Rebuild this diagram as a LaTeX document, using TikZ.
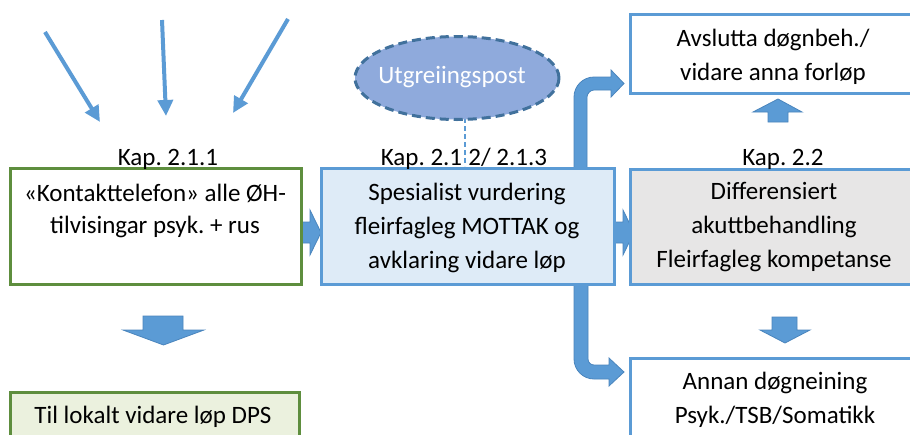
\documentclass[tikz,border=0pt]{standalone}
\usepackage{fontspec}
\setmainfont{Carlito}
\usetikzlibrary{shapes.geometric,arrows.meta}
\definecolor{ablue}{HTML}{5B9BD5}
\definecolor{aedge}{HTML}{4A85BD}
\definecolor{gborder}{HTML}{5E8E3E}
\definecolor{gfill}{HTML}{EBF1DE}
\definecolor{bfill}{HTML}{DEEBF7}
\definecolor{grfill}{HTML}{E7E6E6}
\definecolor{efill}{HTML}{8FAADC}
\definecolor{eedge}{HTML}{41719C}
\frenchspacing
\begin{document}
\begin{tikzpicture}[x=1pt,y=-1pt,
  txt/.style={font=\fontsize{25}{34}\selectfont, align=center, inner sep=0pt, text=black},
  bluebox/.style={draw=ablue, line width=2.5pt, anchor=north west, inner sep=0pt},
  greenbox/.style={draw=gborder, line width=2.5pt, anchor=north west, inner sep=0pt},
  blockarrow/.style={fill=ablue, draw=aedge, line width=0.8pt},
  feed/.style={draw=ablue, line width=4pt, -{Triangle[width=15pt,length=16pt]}},
  dashlink/.style={draw=ablue, line width=2.2pt, dash pattern=on 5pt off 3pt}]
\useasboundingbox (0,0) rectangle (910,434);
\clip (0,0) rectangle (910,434);
\fill[white] (0,0) rectangle (910,434);

% incoming arrows
\coordinate (s1) at (45,32);  \coordinate (t1) at (100,122);
\coordinate (s2) at (162,20); \coordinate (t2) at (166,116);
\coordinate (s3) at (288,19); \coordinate (t3) at (233,113);
\draw[feed] (s1) -- (t1);
\draw[feed] (s2) -- (t2);
\draw[feed] (s3) -- (t3);

% block arrows
\filldraw[blockarrow] (300,222) -- (310,222) -- (310,210) -- (321,232.5) -- (310,255) -- (310,243) -- (300,243) -- cycle;
\filldraw[blockarrow] (613,222) -- (623,222) -- (623,210) -- (634,232.5) -- (623,255) -- (623,243) -- (613,243) -- cycle;
\filldraw[blockarrow] (143,316) -- (183,316) -- (183,330) -- (204,330) -- (163.5,345) -- (123,330) -- (143,330) -- cycle;
\filldraw[blockarrow] (772,317) -- (797,317) -- (797,330) -- (810,330) -- (785,343) -- (760,330) -- (772,330) -- cycle;
\filldraw[blockarrow] (768,122) -- (788,122) -- (788,112) -- (802,112) -- (778,99) -- (753,112) -- (768,112) -- cycle;
% bent arrow up
\filldraw[blockarrow] (574,170) -- (574,97) .. controls (574,86) and (583,77) .. (594,77)
  -- (611,77) -- (611,70) -- (624,83.5) -- (611,97) -- (611,90) -- (594,90)
  .. controls (590.1,90) and (587,93.9) .. (587,97) -- (587,170) -- cycle;
% bent arrow down
\filldraw[blockarrow] (574,280) -- (574,359) .. controls (574,370) and (583,379) .. (594,379)
  -- (609,379) -- (609,386) -- (624,372) -- (609,358) -- (609,365) -- (594,365)
  .. controls (590.7,365) and (588,362.3) .. (588,359) -- (588,280) -- cycle;

% boxes
\node[greenbox, fill=white, minimum width=291pt, minimum height=116pt] (b1) at (9,167) {};
\node[greenbox, fill=gfill, minimum width=289pt, minimum height=60pt] (bl) at (9,391) {};
\node[bluebox, fill=bfill, minimum width=293pt, minimum height=116pt] (b2) at (320,167) {};
\node[bluebox, fill=grfill, minimum width=300pt, minimum height=115pt] (b3) at (629,168) {};
\node[bluebox, fill=white, minimum width=300pt, minimum height=79pt] (av) at (629,13) {};
\node[bluebox, fill=white, minimum width=300pt, minimum height=100pt] (an) at (629,357) {};

% box texts
\node[txt, font=\fontsize{25}{32}\selectfont] (b1t) at (155,211) {«Kontakttelefon» alle ØH-\\tilvisingar psyk. + rus};
\node[txt] (blt) at (153,417) {Til lokalt vidare løp DPS};
\node[txt] (b2t) at (467,228) {Spesialist vurdering\\fleirfagleg MOTTAK og\\avklaring vidare løp};
\node[txt] (b3t) at (774,227) {Differensiert\\akuttbehandling\\Fleirfagleg kompetanse};
\node[txt] (avt) at (773,57) {Avslutta døgnbeh./\\vidare anna forløp};
\node[txt] (ant) at (775,400) {Annan døgneining\\Psyk./TSB/Somatikk};

% chapter labels
\node[txt] (k1) at (168,159) {Kap. 2.1.1};
\node[txt] (k2) at (464,159) {Kap. 2.1.2/ 2.1.3};
\node[txt] (k3) at (783,159) {Kap. 2.2};

% dashed link
\coordinate (d1) at (465,118);
\coordinate (d2) at (465,166);
\draw[white, line width=5pt] (d1) -- (d2);
\draw[dashlink] (d1) -- (d2);

% ellipse
\node[ellipse, fill=efill, draw=eedge, line width=3pt, dash pattern=on 9pt off 5pt,
  minimum width=204pt, minimum height=83pt, inner sep=0pt] (e) at (457,78) {};
\node[txt, text=white] (et) at (452,77) {Utgreiingspost};
\end{tikzpicture}
\end{document}
